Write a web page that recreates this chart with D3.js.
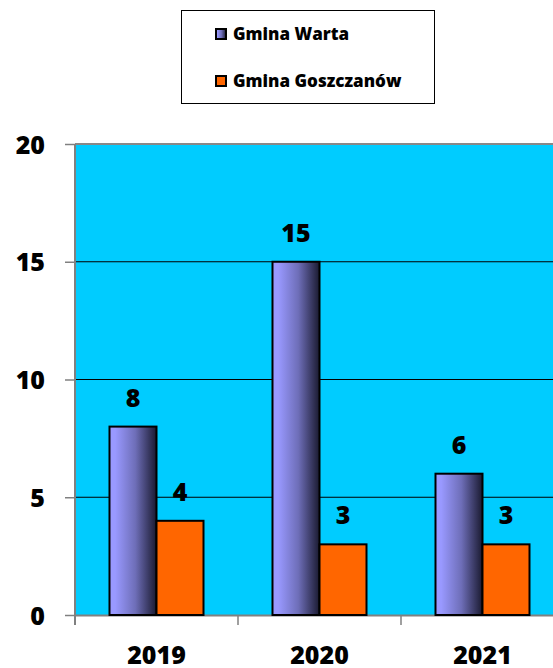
<!DOCTYPE html>
<html><head><meta charset="utf-8">
<script src="https://cdn.jsdelivr.net/npm/d3@7"></script>
<style>
body{margin:0;background:#fff;}
svg{display:block;font-family:"Open Sans","Liberation Sans",sans-serif;font-weight:800;}
</style></head>
<body><svg id="c" width="553" height="668"></svg>
<script>
const years = ["2019","2020","2021"];
const seriesNames = ["Gmina Warta","Gmina Goszczanów"];
const warta = [8,15,6];
const goszczanow = [4,3,3];
const yTicks = [0,5,10,15,20];

(function(){
const svg = d3.select("#c");
const pLeft = 75, pTop = 144, pBottom = 615, pRight = 564;
const FONT = "'Open Sans',sans-serif";

const defs = svg.append("defs");
const g = defs.append("linearGradient").attr("id","grad").attr("x1","0%").attr("x2","100%").attr("y1","0%").attr("y2","0%");
g.append("stop").attr("offset","0%").attr("stop-color","#9999ff");
g.append("stop").attr("offset","12%").attr("stop-color","#9999ff");
g.append("stop").attr("offset","55%").attr("stop-color","#6e6eb8");
g.append("stop").attr("offset","100%").attr("stop-color","#1a1a30");

const y = d3.scaleLinear().domain([0,20]).range([pBottom, pTop]);
const x0 = d3.scaleBand().domain(years).range([pLeft, pRight]).paddingInner(0).paddingOuter(0);
const x1 = d3.scaleBand().domain(seriesNames).range([0, x0.bandwidth()]).paddingInner(0).paddingOuter(0.734);

svg.append("rect").attr("x",pLeft).attr("y",pTop).attr("width",pRight-pLeft).attr("height",pBottom-pTop).attr("fill","#00ccff");
svg.append("line").attr("x1",pLeft).attr("x2",pRight).attr("y1",pTop).attr("y2",pTop).attr("stroke","#888").attr("stroke-width",2);

svg.append("g").selectAll("line").data(yTicks.filter(t=>t>0 && t<20)).join("line")
  .attr("x1",pLeft).attr("x2",pRight).attr("y1",d=>y(d)).attr("y2",d=>y(d))
  .attr("stroke","#000").attr("stroke-width",1);

const yAxis = svg.append("g").attr("transform",`translate(${pLeft},0)`)
  .call(d3.axisLeft(y).tickValues(yTicks).tickSize(10).tickPadding(20).tickFormat(d3.format("d")));
yAxis.select(".domain").attr("stroke","#808080").attr("stroke-width",2).attr("d",`M0,${pTop}V${pBottom+10}`);
yAxis.selectAll(".tick line").attr("stroke","#808080").attr("stroke-width",1.5);
yAxis.selectAll(".tick text").attr("font-size",25).attr("font-family",FONT).attr("font-weight",800).attr("fill","#000").attr("dy","0.36em");

const xAxis = svg.append("g").attr("transform",`translate(0,${pBottom})`)
  .call(d3.axisBottom(x0).tickSize(0).tickPadding(31));
xAxis.select(".domain").attr("stroke","#808080").attr("stroke-width",2);
xAxis.selectAll(".tick text").attr("font-size",25).attr("font-family",FONT).attr("font-weight",800).attr("fill","#000");
const seps = years.map(d=>x0(d)).concat([x0(years[years.length-1])+x0.bandwidth()]);
svg.append("g").selectAll("line").data(seps).join("line")
  .attr("x1",d=>d).attr("x2",d=>d)
  .attr("y1",pBottom).attr("y2",pBottom+10).attr("stroke","#808080").attr("stroke-width",1.5);

const rows = years.map((yr,i)=>({year:yr, vals:[{s:seriesNames[0],v:warta[i]},{s:seriesNames[1],v:goszczanow[i]}]}));
const fills = {"Gmina Warta":"url(#grad)","Gmina Goszczanów":"#ff6600"};
const grp = svg.append("g").selectAll("g").data(rows).join("g").attr("transform",d=>`translate(${x0(d.year)},0)`);
grp.selectAll("rect").data(d=>d.vals).join("rect")
  .attr("x",d=>x1(d.s)).attr("width",x1.bandwidth())
  .attr("y",d=>y(d.v)).attr("height",d=>y(0)-y(d.v))
  .attr("fill",d=>fills[d.s]).attr("stroke","#000").attr("stroke-width",2);
grp.selectAll("text").data(d=>d.vals).join("text")
  .attr("x",d=>x1(d.s)+x1.bandwidth()/2).attr("y",d=>y(d.v)-20)
  .attr("text-anchor","middle").attr("font-size",25).attr("font-family",FONT).attr("font-weight",800).attr("fill","#000")
  .text(d=>d.v);

const lg = svg.append("g");
lg.append("rect").attr("x",181.5).attr("y",10.5).attr("width",253).attr("height",93).attr("fill","#fff").attr("stroke","#000").attr("stroke-width",1);
const items = lg.selectAll("g").data(seriesNames).join("g").attr("transform",(d,i)=>`translate(216,${29+i*47})`);
items.append("rect").attr("width",10).attr("height",10).attr("fill",d=>fills[d]).attr("stroke","#000").attr("stroke-width",2);
items.append("text").attr("x",17).attr("y",11).attr("font-size",17).attr("font-family",FONT).attr("font-weight",800).attr("fill","#000").text(d=>d);
})();
</script></body></html>
